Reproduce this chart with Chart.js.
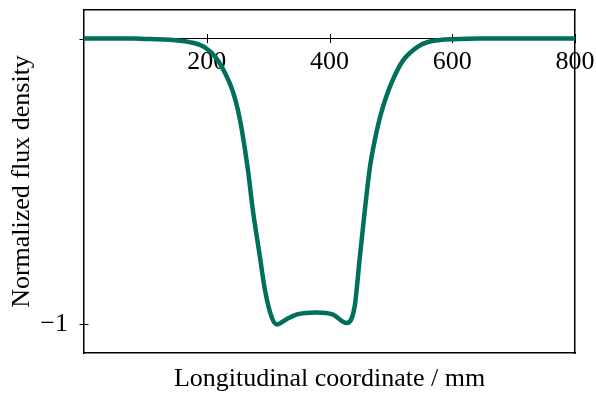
<!DOCTYPE html>
<html>
<head>
<meta charset="utf-8">
<script src="https://cdn.jsdelivr.net/npm/chart.js@4/dist/chart.umd.min.js"></script>
<style>
  html, body { margin: 0; padding: 0; background: #fff; }
  #wrap { width: 596px; height: 395px; }
</style>
</head>
<body>
<div id="wrap"><canvas id="fluxChart" width="596" height="395"></canvas></div>
<script>
// data
const positions = [0, 80, 107, 140, 172, 197, 216, 231, 242.5, 250.6, 257, 267, 275, 286.5, 294.7, 306, 314, 330, 347, 379, 405, 428, 441, 449.5, 457.7, 465.8, 474, 482.2, 492, 503.4, 519.7, 544, 560.5, 580, 601, 645, 800];
const fluxValues = [0, 0, -0.0017, -0.004, -0.0122, -0.031, -0.070, -0.126, -0.185, -0.248, -0.318, -0.458, -0.598, -0.762, -0.878, -0.976, -1.0, -0.982, -0.965, -0.958, -0.965, -0.995, -0.937, -0.762, -0.598, -0.451, -0.353, -0.276, -0.206, -0.143, -0.077, -0.028, -0.012, -0.0052, -0.0024, 0, 0];
const xTicks = [200, 400, 600, 800];
const yTicks = [-1, 0];

const serif = "'Liberation Serif', 'Times New Roman', serif";
const lineColor = "#00705a";

// tick marks that cross the axis lines, like pgfplots does
const crossTicks = {
  id: "crossTicks",
  beforeDatasetsDraw(chart) {
    const { ctx, scales: { x, y } } = chart;
    const y0 = y.getPixelForValue(0);
    ctx.save();
    ctx.strokeStyle = "#000";
    ctx.lineWidth = 1;
    ctx.beginPath();
    xTicks.forEach(v => {
      const px = Math.round(x.getPixelForValue(v)) + 0.5;
      ctx.moveTo(px, y0 - 4.5);
      ctx.lineTo(px, y0 + 4.5);
    });
    yTicks.forEach(v => {
      const py = Math.round(y.getPixelForValue(v)) + 0.5;
      ctx.moveTo(x.left - 4.5, py);
      ctx.lineTo(x.left + 4.5, py);
    });
    ctx.stroke();
    ctx.restore();
  }
};

const frameBorder = { display: true, color: "#000", width: 1.5 };
const noPad = s => { s.paddingTop = 0; s.paddingBottom = 0; s.paddingLeft = 0; s.paddingRight = 0; };

new Chart(document.getElementById("fluxChart"), {
  type: "scatter",
  data: {
    datasets: [{
      data: positions.map((p, i) => ({ x: p, y: fluxValues[i] })),
      showLine: true,
      borderColor: lineColor,
      borderWidth: 4.5,
      pointRadius: 0,
      cubicInterpolationMode: "monotone",
      xAxisID: "x",
      yAxisID: "y"
    }]
  },
  options: {
    responsive: false,
    animation: false,
    layout: { padding: { top: 10, right: 21, left: 0, bottom: 0 } },
    plugins: { legend: { display: false }, tooltip: { enabled: false } },
    scales: {
      x: {
        type: "linear",
        position: { y: 0 },
        min: 0,
        max: 800,
        grid: { display: false, drawTicks: false },
        border: { display: true, color: "#000", width: 1 },
        afterBuildTicks: s => { s.ticks = xTicks.map(v => ({ value: v })); },
        afterFit: noPad,
        ticks: {
          autoSkip: false,
          maxRotation: 0,
          padding: 8,
          color: "#000",
          font: { family: serif, size: 26 },
          callback: v => String(v)
        }
      },
      y: {
        type: "linear",
        position: "left",
        min: -1.1,
        max: 0.1,
        grid: { display: false, drawTicks: false },
        border: frameBorder,
        afterBuildTicks: s => { s.ticks = yTicks.map(v => ({ value: v })); },
        afterFit: s => { noPad(s); s.width = 84; },
        ticks: {
          padding: 16,
          color: "#000",
          font: { family: serif, size: 26 },
          callback: v => (v === -1 ? "\u22121" : "")
        },
        title: {
          display: true,
          text: "Normalized flux density",
          color: "#000",
          font: { family: serif, size: 26 },
          padding: { top: 7, bottom: 0 }
        }
      },
      xBottom: {
        type: "linear",
        position: "bottom",
        grid: { display: false, drawTicks: false },
        ticks: { display: false },
        border: frameBorder,
        afterFit: s => { noPad(s); s.height = 42; },
        title: {
          display: true,
          text: "Longitudinal coordinate / mm",
          color: "#000",
          font: { family: serif, size: 26 },
          padding: { top: 0, bottom: 0 }
        }
      },
      xTop: {
        type: "linear",
        position: "top",
        grid: { display: false, drawTicks: false },
        ticks: { display: false },
        border: frameBorder,
        afterFit: s => { noPad(s); s.height = 0; }
      },
      yRight: {
        type: "linear",
        position: "right",
        grid: { display: false, drawTicks: false },
        ticks: { display: false },
        border: frameBorder,
        afterFit: s => { noPad(s); s.width = 0; }
      }
    }
  },
  plugins: [crossTicks]
});
</script>
</body>
</html>
